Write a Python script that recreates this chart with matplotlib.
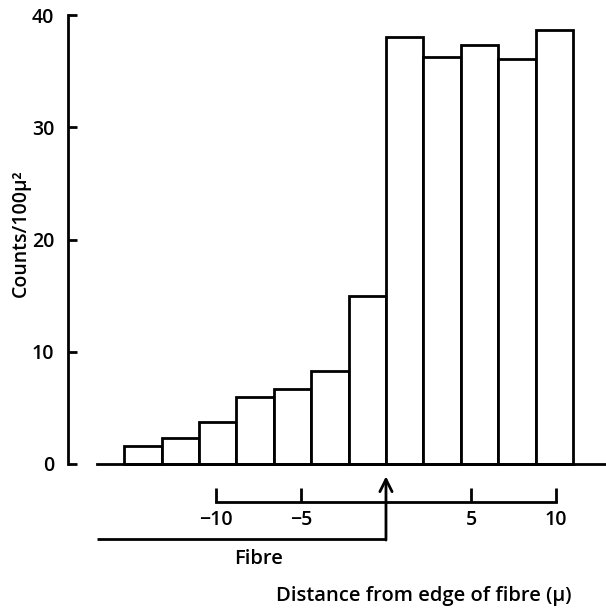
import matplotlib.pyplot as plt

# Datos
bin_edges = [-15.4, -13.2, -11.0, -8.8, -6.6, -4.4, -2.2, 0.0, 2.2, 4.4, 6.6, 8.8, 11.0]
counts = [1.6, 2.3, 3.7, 6.0, 6.7, 8.3, 15.0, 38.0, 36.3, 37.3, 36.1, 38.7]
y_ticks = [0, 10, 20, 30, 40]
dist_ticks = [-10, -5, 5, 10]
dist_labels = ['\u221210', '\u22125', '5', '10']

plt.rcParams['font.family'] = ['Open Sans', 'DejaVu Sans']

x_range = (-22.7, 12.94)

fig = plt.figure(figsize=(6.06, 6.09), dpi=100)
ax = fig.add_axes([0, 0, 1, 1])
ax.set_xlim(*x_range)
ax.set_ylim(-12.92, 41.34)
ax.patch.set_visible(False)

# Barras del histograma
widths = [b - a for a, b in zip(bin_edges[:-1], bin_edges[1:])]
ax.bar(bin_edges[:-1], counts, width=widths, align='edge',
       facecolor='white', edgecolor='black', linewidth=2.0, zorder=2)

# Eje y
ax.spines['left'].set_position(('data', -18.7))
ax.spines['left'].set_bounds(0, 40)
ax.spines['left'].set_linewidth(2.0)
ax.set_yticks(y_ticks)
ax.tick_params(axis='y', direction='in', length=6.5, width=2.0, pad=10,
               labelsize=14)
for lab in ax.get_yticklabels():
    lab.set_fontweight('semibold')
ax.text(-21.5, 20.6, 'Counts/100\u03bc\u00b2', rotation=90, ha='center', va='center',
        fontsize=14, fontweight='semibold')

# Linea base
ax.spines['bottom'].set_position(('data', 0))
ax.spines['bottom'].set_bounds(-17.0, 12.94)
ax.spines['bottom'].set_linewidth(2.0)
ax.set_xticks([])
ax.spines['top'].set_visible(False)
ax.spines['right'].set_visible(False)

# Escala de distancia
ax2 = fig.add_axes([0, (609 - 502) / 609, 1, 0.05])
ax2.set_xlim(*x_range)
ax2.patch.set_visible(False)
for s in ['left', 'right', 'top']:
    ax2.spines[s].set_visible(False)
ax2.spines['bottom'].set_bounds(-10, 10)
ax2.spines['bottom'].set_linewidth(2.0)
ax2.set_yticks([])
ax2.set_xticks(dist_ticks)
ax2.set_xticklabels(dist_labels)
ax2.tick_params(axis='x', direction='in', length=10, width=2.0, pad=6,
                labelsize=14)
for lab in ax2.get_xticklabels():
    lab.set_fontweight('semibold')

# Flecha del borde de la fibra
ax.plot([-17.0, 0.0], [-6.68, -6.68], color='black', linewidth=2.0,
        solid_capstyle='butt', clip_on=False)
ax.annotate('', xy=(0.0, -1.1), xytext=(0.0, -6.78),
            arrowprops=dict(arrowstyle='->', color='black', lw=2.0,
                            mutation_scale=22, shrinkA=0, shrinkB=0))
ax.text(-7.5, -8.45, 'Fibre', ha='center', va='center', fontsize=14.5,
        fontweight='semibold')
ax.text(2.2, -11.75, 'Distance from edge of fibre (\u03bc)', ha='center',
        va='center', fontsize=14.5, fontweight='semibold')

fig.savefig('out.png', dpi=100)
